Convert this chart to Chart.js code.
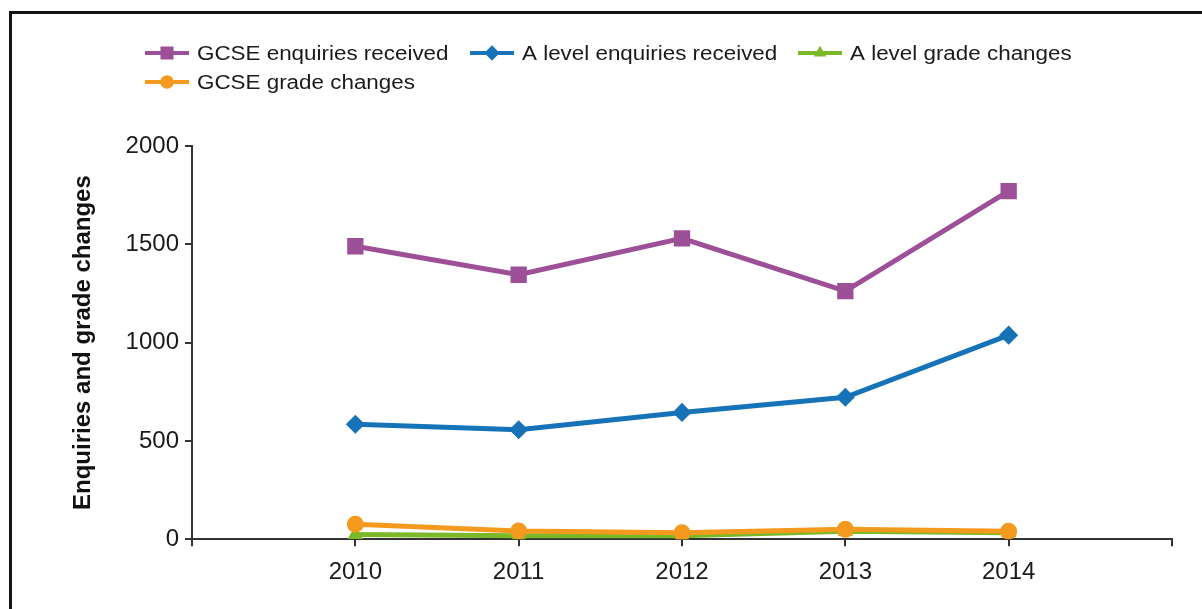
<!DOCTYPE html>
<html>
<head>
<meta charset="utf-8">
<script src="https://cdn.jsdelivr.net/npm/chart.js@4.4.1/dist/chart.umd.min.js"></script>
<style>
    body { margin: 0; background: #fff; }
    #wrap { position: relative; width: 1202px; height: 609px; }
    #frame { position: absolute; left: 9px; top: 11px; right: -10px; bottom: -10px;
             border-left: 3px solid #151515; border-top: 3px solid #151515; pointer-events: none; }
</style>
</head>
<body>
<div id="wrap">
    <canvas id="canvas" width="1202" height="609"></canvas>
    <div id="frame"></div>
</div>
<script>
// Données
const years = [2010, 2011, 2012, 2013, 2014];
const gcseEnquiries = [1490, 1345, 1530, 1262, 1770];
const aLevelEnquiries = [585, 557, 645, 722, 1038];
const aLevelChanges = [24, 17, 17, 40, 33];
const gcseChanges = [76, 42, 33, 50, 40];
const yTicks = [0, 500, 1000, 1500, 2000];

const FONT = "'Liberation Sans', Arial, sans-serif";

function toPoints(values) {
    return values.map((v, i) => ({x: years[i], y: v}));
}

// Légende dessinée à la main : trait + marqueur + texte, deuxième ligne alignée à gauche
const legendPlugin = {
    id: 'customLegend',
    afterDraw(chart) {
        const ctx = chart.ctx;
        const places = [[145, 53], [470, 53], [798, 53], [145, 82]];
        ctx.save();
        chart.data.datasets.forEach((ds, k) => {
            const [x, y] = places[k];
            ctx.strokeStyle = ds.borderColor;
            ctx.lineWidth = 4;
            ctx.beginPath();
            ctx.moveTo(x, y);
            ctx.lineTo(x + 44, y);
            ctx.stroke();
            Chart.helpers.drawPoint(ctx, {
                pointStyle: ds.pointStyle,
                radius: ds.pointRadius * 0.8,
                borderWidth: 1
            }, x + 22, y);
            ctx.fillStyle = ds.borderColor;
            ctx.fill();
            ctx.fillStyle = '#1a1a1a';
            ctx.font = '20px ' + FONT;
            ctx.textBaseline = 'middle';
            ctx.save();
            ctx.translate(x + 52, y);
            ctx.scale(1.12, 1);
            ctx.fillText(ds.label, 0, 1);
            ctx.restore();
        });
        ctx.restore();
    }
};

const data = {
    datasets: [
        {
            label: 'GCSE enquiries received',
            data: toPoints(gcseEnquiries),
            borderColor: '#9d4f98',
            backgroundColor: '#9d4f98',
            pointStyle: 'rect',
            pointRadius: 8,
            borderWidth: 5,
            order: 1
        },
        {
            label: 'A level enquiries received',
            data: toPoints(aLevelEnquiries),
            borderColor: '#1673b8',
            backgroundColor: '#1673b8',
            pointStyle: 'rectRot',
            pointRadius: 6,
            borderWidth: 5,
            order: 2
        },
        {
            label: 'A level grade changes',
            data: toPoints(aLevelChanges),
            borderColor: '#7cb928',
            backgroundColor: '#7cb928',
            pointStyle: 'triangle',
            pointRadius: 4,
            borderWidth: 5,
            order: 4
        },
        {
            label: 'GCSE grade changes',
            data: toPoints(gcseChanges),
            borderColor: '#f39a1f',
            backgroundColor: '#f39a1f',
            pointStyle: 'circle',
            pointRadius: 6,
            borderWidth: 5,
            order: 3
        }
    ]
};

const config = {
    type: 'line',
    data: data,
    options: {
        responsive: false,
        animation: false,
        layout: {padding: {top: 146, left: 58, right: 30, bottom: 10}},
        elements: {line: {tension: 0}, point: {borderWidth: 2}},
        plugins: {
            legend: {display: false},
            tooltip: {enabled: false}
        },
        scales: {
            x: {
                type: 'linear',
                min: 2009,
                max: 2015,
                afterBuildTicks: (scale) => {
                    scale.ticks = [2009, 2010, 2011, 2012, 2013, 2014, 2015].map(v => ({value: v}));
                },
                ticks: {
                    color: '#1a1a1a',
                    font: {family: FONT, size: 24},
                    padding: 12,
                    callback: (v) => years.includes(v) ? String(v) : ''
                },
                grid: {drawOnChartArea: false, drawTicks: true, tickLength: 7, color: '#333', lineWidth: 2},
                border: {color: '#333', width: 2}
            },
            y: {
                min: 0,
                max: 2000,
                afterBuildTicks: (scale) => {
                    scale.ticks = yTicks.map(v => ({value: v}));
                },
                afterFit: (scale) => { scale.width = 134; },
                ticks: {
                    color: '#1a1a1a',
                    font: {family: FONT, size: 24},
                    padding: 6,
                    callback: (v) => String(v)
                },
                title: {
                    display: true,
                    text: 'Enquiries and grade changes',
                    color: '#111',
                    font: {family: FONT, size: 24, weight: 'bold'},
                    padding: {top: 11, bottom: 0}
                },
                grid: {drawOnChartArea: false, drawTicks: true, tickLength: 7, color: '#333', lineWidth: 2},
                border: {color: '#333', width: 2}
            }
        }
    },
    plugins: [legendPlugin]
};

new Chart(document.getElementById('canvas'), config);
</script>
</body>
</html>
